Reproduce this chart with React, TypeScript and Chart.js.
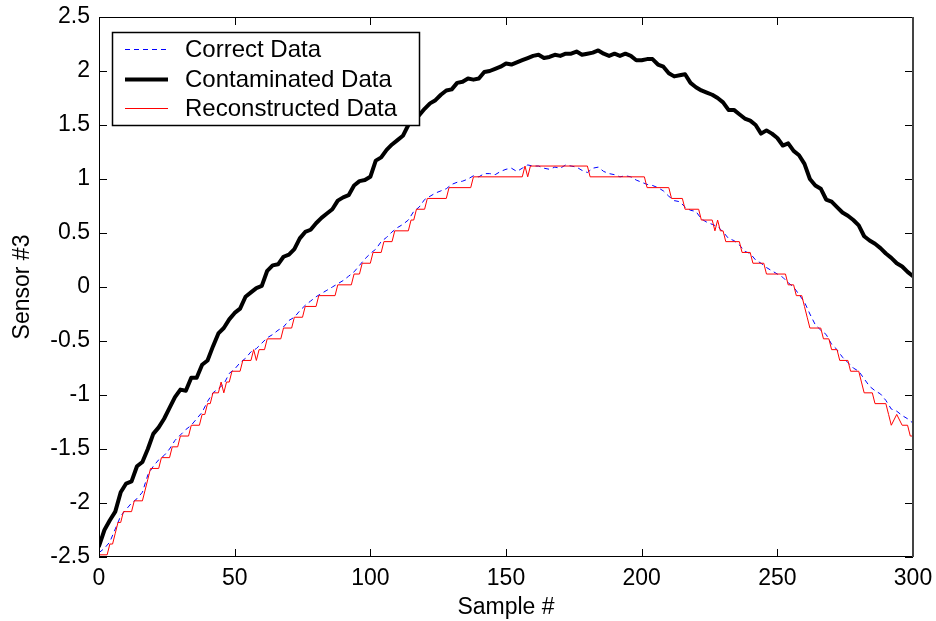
import React, { useEffect, useRef } from 'react';
import { Chart, registerables } from 'chart.js';

Chart.register(...registerables);

// Sample numbers used for the sampled series (every 2nd sample)
const sampleNumbers = Array.from({ length: 151 }, (_, i) => i * 2);

const contaminatedValues = [
  -2.40, -2.25, -2.16, -2.08, -1.90, -1.82, -1.80, -1.66, -1.62, -1.50,
  -1.36, -1.30, -1.22, -1.12, -1.02, -0.95, -0.96, -0.84, -0.84, -0.72,
  -0.68, -0.55, -0.43, -0.38, -0.30, -0.24, -0.20, -0.09, -0.05, -0.01,
  0.01, 0.15, 0.20, 0.21, 0.28, 0.30, 0.35, 0.45, 0.51, 0.53,
  0.59, 0.64, 0.68, 0.72, 0.80, 0.83, 0.85, 0.94, 0.98, 0.99,
  1.02, 1.17, 1.20, 1.27, 1.32, 1.36, 1.40, 1.50, 1.56, 1.59,
  1.65, 1.70, 1.73, 1.78, 1.82, 1.83, 1.89, 1.90, 1.93, 1.92,
  1.93, 1.99, 2.00, 2.02, 2.04, 2.07, 2.06, 2.08, 2.10, 2.12,
  2.14, 2.15, 2.12, 2.13, 2.15, 2.14, 2.16, 2.16, 2.18, 2.15,
  2.16, 2.17, 2.19, 2.16, 2.14, 2.16, 2.14, 2.16, 2.14, 2.10,
  2.10, 2.11, 2.11, 2.06, 2.04, 1.98, 1.95, 1.96, 1.97, 1.89,
  1.85, 1.82, 1.80, 1.78, 1.75, 1.71, 1.64, 1.64, 1.60, 1.56,
  1.54, 1.50, 1.42, 1.45, 1.42, 1.38, 1.31, 1.33, 1.26, 1.22,
  1.14, 1.00, 0.94, 0.91, 0.81, 0.79, 0.74, 0.69, 0.66, 0.62,
  0.57, 0.47, 0.43, 0.40, 0.36, 0.31, 0.27, 0.22, 0.19, 0.14,
  0.10,
];

const correctValues = [
  -2.46, -2.42, -2.36, -2.24, -2.12, -2.06, -2.00, -1.96, -1.90, -1.74,
  -1.66, -1.60, -1.56, -1.50, -1.42, -1.37, -1.32, -1.28, -1.22, -1.16,
  -1.06, -0.98, -0.94, -0.90, -0.80, -0.76, -0.70, -0.66, -0.60, -0.57,
  -0.52, -0.47, -0.44, -0.40, -0.37, -0.31, -0.28, -0.22, -0.17, -0.13,
  -0.09, -0.06, -0.03, 0.00, 0.03, 0.06, 0.10, 0.14, 0.20, 0.26,
  0.31, 0.35, 0.42, 0.46, 0.51, 0.55, 0.58, 0.62, 0.70, 0.74,
  0.81, 0.84, 0.87, 0.89, 0.91, 0.95, 0.97, 0.98, 1.00, 1.03,
  1.02, 1.05, 1.05, 1.04, 1.07, 1.09, 1.10, 1.07, 1.10, 1.13,
  1.12, 1.12, 1.10, 1.09, 1.11, 1.10, 1.13, 1.12, 1.11, 1.08,
  1.06, 1.10, 1.11, 1.07, 1.05, 1.04, 1.02, 1.03, 1.02, 0.99,
  0.97, 0.95, 0.94, 0.92, 0.89, 0.84, 0.80, 0.79, 0.74, 0.71,
  0.70, 0.63, 0.60, 0.58, 0.56, 0.51, 0.45, 0.43, 0.39, 0.33,
  0.31, 0.25, 0.22, 0.18, 0.15, 0.12, 0.09, 0.04, 0.00, -0.07,
  -0.14, -0.25, -0.35, -0.40, -0.44, -0.53, -0.58, -0.65, -0.70, -0.75,
  -0.78, -0.85, -0.92, -0.96, -0.99, -1.05, -1.13, -1.15, -1.19, -1.22,
  -1.26,
];

// Reconstructed (quantised) data: corner points of the step trace
const reconstructedSamples = [
  0, 3, 4, 5, 6, 7, 8, 9, 12, 13, 16, 17, 18, 19, 22, 23, 26, 27, 29, 30,
  33, 34, 37, 38, 39, 40, 41, 42, 44, 45, 46, 47, 48, 49, 52, 53, 56, 57, 58, 59,
  61, 62, 67, 68, 71, 72, 75, 76, 80, 81, 87, 88, 93, 94, 96, 97, 100, 101, 104, 105,
  108, 109, 114, 115, 116, 117, 120, 121, 128, 129, 137, 138, 156, 157, 158, 159, 180, 181, 201, 202,
  210, 211, 215, 216, 221, 222, 226, 227, 228, 229, 230, 231, 236, 237, 240, 241, 245, 246, 253, 254,
  256, 257, 259, 260, 261, 262, 266, 267, 269, 270, 272, 273, 276, 277, 280, 281, 282, 285, 286, 290,
  291, 292, 294, 296, 298, 299, 300,
];
const reconstructedValues = [
  -2.48, -2.48, -2.38, -2.38, -2.28, -2.18, -2.18, -2.08, -2.08, -1.98, -1.98, -1.88, -1.78, -1.68, -1.68, -1.58, -1.58, -1.48, -1.48, -1.38,
  -1.38, -1.28, -1.28, -1.18, -1.18, -1.08, -1.08, -0.98, -0.98, -0.88, -0.98, -0.88, -0.88, -0.78, -0.78, -0.68, -0.68, -0.58, -0.68, -0.58,
  -0.58, -0.48, -0.48, -0.38, -0.38, -0.28, -0.28, -0.18, -0.18, -0.08, -0.08, 0.02, 0.02, 0.12, 0.12, 0.22, 0.22, 0.32, 0.32, 0.42,
  0.42, 0.52, 0.52, 0.62, 0.62, 0.72, 0.72, 0.82, 0.82, 0.92, 0.92, 1.02, 1.02, 1.12, 1.02, 1.12, 1.12, 1.02, 1.02, 0.92,
  0.92, 0.82, 0.82, 0.72, 0.72, 0.62, 0.62, 0.52, 0.62, 0.52, 0.52, 0.42, 0.42, 0.32, 0.32, 0.22, 0.22, 0.12, 0.12, 0.02,
  0.02, -0.08, -0.08, -0.18, -0.28, -0.38, -0.38, -0.48, -0.48, -0.58, -0.58, -0.68, -0.68, -0.78, -0.78, -0.88, -0.98, -0.98, -1.08, -1.08,
  -1.18, -1.28, -1.18, -1.28, -1.28, -1.38, -1.38,
];

const seriesNames = ['Correct Data', 'Contaminated Data', 'Reconstructed Data'];
const seriesColors = ['#0000ff', '#000000', '#ff0000'];
const seriesWidths = [1, 4, 1];
const seriesDashes: number[][] = [[5, 4], [], []];
const xAxisTitle = 'Sample #';
const yAxisTitle = 'Sensor #3';

const FONT = '"Liberation Sans", Arial, Helvetica, sans-serif';

const matlabPlugin = {
  id: 'matlabFrame',
  afterDatasetsDraw(chart: any) {
    const { ctx, chartArea: a, scales } = chart;
    ctx.save();
    ctx.strokeStyle = '#000';
    ctx.lineWidth = 1;
    const tl = 8;
    ctx.beginPath();
    for (const t of scales.x.ticks) {
      const px = Math.round(scales.x.getPixelForValue(t.value)) + 0.5;
      ctx.moveTo(px, a.bottom);
      ctx.lineTo(px, a.bottom - tl);
      ctx.moveTo(px, a.top);
      ctx.lineTo(px, a.top + tl);
    }
    for (const t of scales.y.ticks) {
      const py = Math.round(scales.y.getPixelForValue(t.value)) + 0.5;
      ctx.moveTo(a.left, py);
      ctx.lineTo(a.left + tl, py);
      ctx.moveTo(a.right, py);
      ctx.lineTo(a.right - tl, py);
    }
    ctx.stroke();
    ctx.strokeRect(Math.round(a.left) + 0.5, Math.round(a.top) + 0.5, Math.round(a.right - a.left) - 1, Math.round(a.bottom - a.top) - 1);
    ctx.strokeStyle = '#444';
    ctx.lineWidth = 2;
    ctx.beginPath();
    ctx.moveTo(Math.round(a.right), a.top);
    ctx.lineTo(Math.round(a.right), a.bottom);
    ctx.stroke();

    // legend box
    const bx = Math.round(a.left) + 13.5;
    const by = Math.round(a.top) + 15.5;
    const bw = 307;
    const bh = 93;
    ctx.fillStyle = '#fff';
    ctx.fillRect(bx, by, bw, bh);
    ctx.lineWidth = 1.5;
    ctx.strokeStyle = '#000';
    ctx.strokeRect(bx, by, bw, bh);
    const rows = [32, 61.5, 90.5];
    ctx.font = `24px ${FONT}`;
    ctx.textBaseline = 'middle';
    ctx.textAlign = 'left';
    for (let i = 0; i < seriesNames.length; i++) {
      const y = Math.round(a.top + rows[i]) + 0.5;
      ctx.save();
      ctx.strokeStyle = seriesColors[i];
      ctx.lineWidth = seriesWidths[i];
      ctx.setLineDash(seriesDashes[i]);
      ctx.beginPath();
      ctx.moveTo(a.left + 26, y);
      ctx.lineTo(a.left + 69, y);
      ctx.stroke();
      ctx.restore();
      ctx.fillStyle = '#000';
      ctx.fillText(seriesNames[i], a.left + 86, y + 1);
    }
    ctx.restore();
  },
};

export default function App() {
  const ref = useRef<HTMLCanvasElement | null>(null);

  useEffect(() => {
    if (!ref.current) return;
    const chart = new Chart(ref.current, {
      type: 'line',
      data: {
        datasets: [
          {
            label: seriesNames[0],
            data: sampleNumbers.map((x, i) => ({ x, y: correctValues[i] })),
            borderColor: seriesColors[0],
            borderWidth: seriesWidths[0],
            borderDash: seriesDashes[0],
            pointRadius: 0,
            fill: false,
            tension: 0,
            order: 2,
          },
          {
            label: seriesNames[1],
            data: sampleNumbers.map((x, i) => ({ x, y: contaminatedValues[i] })),
            borderColor: seriesColors[1],
            borderWidth: seriesWidths[1],
            pointRadius: 0,
            fill: false,
            tension: 0,
            borderJoinStyle: 'round',
            borderCapStyle: 'round',
            order: 1,
          },
          {
            label: seriesNames[2],
            data: reconstructedSamples.map((x, i) => ({ x, y: reconstructedValues[i] })),
            borderColor: seriesColors[2],
            borderWidth: seriesWidths[2],
            pointRadius: 0,
            fill: false,
            tension: 0,
            order: 0,
          },
        ],
      } as any,
      options: {
        animation: false,
        responsive: false,
        devicePixelRatio: 1,
        layout: { padding: { left: 0, right: 23, top: 17, bottom: 0 } },
        plugins: {
          legend: { display: false },
          tooltip: { enabled: false },
        },
        scales: {
          x: {
            type: 'linear',
            min: 0,
            max: 300,
            grid: { display: false },
            border: { display: false },
            ticks: { stepSize: 50, color: '#000', padding: 0, font: { family: FONT, size: 23 } },
            title: { display: true, text: xAxisTitle, color: '#000', padding: { top: 0, bottom: 0 }, font: { family: FONT, size: 23 } },
            afterFit: (s: any) => { s.height = 64; },
          },
          y: {
            type: 'linear',
            min: -2.5,
            max: 2.5,
            grid: { display: false },
            border: { display: false },
            ticks: {
              stepSize: 0.5,
              color: '#000',
              padding: 1,
              font: { family: FONT, size: 23 },
              callback: (v: any) => String(Number(v)),
            },
            title: { display: true, text: yAxisTitle, color: '#000', padding: { top: 9, bottom: 0 }, font: { family: FONT, size: 23 } },
            afterFit: (s: any) => { s.width = 99; },
          },
        },
      } as any,
      plugins: [matlabPlugin],
    });
    return () => chart.destroy();
  }, []);

  return (
    <div style={{ position: 'fixed', left: 0, top: 0, width: 936, height: 621, background: '#fff' }}>
      <canvas ref={ref} width={936} height={621} style={{ width: 936, height: 621 }} />
    </div>
  );
}
